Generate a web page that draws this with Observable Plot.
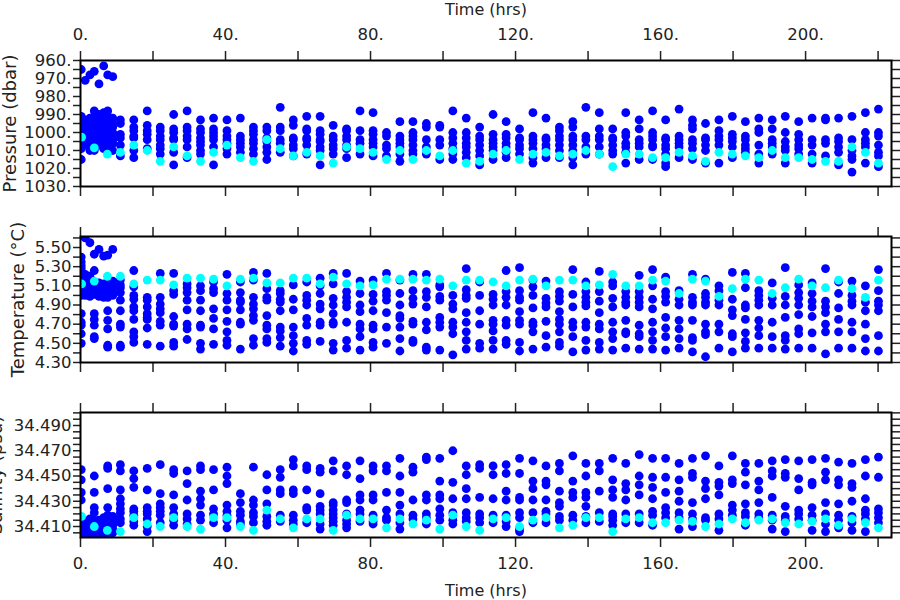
<!DOCTYPE html>
<html><head><meta charset="utf-8">
<script src="https://cdn.jsdelivr.net/npm/d3@7"></script>
<script src="https://cdn.jsdelivr.net/npm/@observablehq/plot@0.6"></script>
<style>
html,body{margin:0;padding:0;background:#fff;}
#chart{position:relative;width:900px;height:600px;overflow:hidden;background:#fff;}
#chart svg{position:absolute;left:0;overflow:visible;}
</style></head><body><div id="chart"></div>
<script>
// ---- time axis ----
const timeTicks = [0, 20, 40, 60, 80, 100, 120, 140, 160, 180, 200, 220];
const timeLabels = [0, 40, 80, 120, 160, 200];
// ---- cast times (hrs) ----
const earlyTimes = [0.2, 1.3, 2.6, 3.8, 5.1, 6.4, 7.5, 8.9];
const earlyCyanTimes = [0.3, 3.8, 7.4];
const colTimes = [11.0, 14.7, 18.4, 22.0, 25.7, 29.4, 33.1, 36.7, 40.4, 44.1, 47.7, 51.4, 55.1, 58.7,
  62.4, 66.1, 69.7, 73.4, 77.1, 80.7, 84.4, 88.1, 91.7, 95.4, 99.1, 102.7, 106.4, 110.1, 113.8, 117.4,
  121.1, 124.8, 128.4, 132.1, 135.8, 139.4, 143.1, 146.8, 150.4, 154.1, 157.8, 161.4, 165.1, 168.8,
  172.4, 176.1, 179.8, 183.4, 187.1, 190.8, 194.4, 198.1, 201.8, 205.5, 209.1, 212.8, 216.5, 220.1];

// ---- pressure (dbar) ----
const pressureTicks = [960, 965, 970, 975, 980, 985, 990, 995, 1000, 1005, 1010, 1015, 1020, 1025, 1030];
const pressureLabels = [960, 970, 980, 990, 1000, 1010, 1020, 1030];
const pressureEarly = [
  [965, 991, 994, 996, 999, 1001, 1004, 1006, 1009, 1015],
  [971, 993, 995, 998, 1000, 1002, 1005, 1007],
  [968, 992, 995, 997, 999, 1001, 1004, 1007, 1010],
  [966, 988, 991, 995, 998, 1000, 1003, 1006, 1010],
  [973, 990, 993, 996, 999, 1002, 1004, 1007],
  [963, 989, 992, 995, 998, 1001, 1003, 1006, 1009],
  [968, 988, 991, 994, 997, 1000, 1003, 1005, 1008, 1011],
  [969, 992, 995, 997, 1000, 1002, 1004, 1006, 1010]];
const pressureEarlyCyan = [1002.6, 1008.5, 1012];
const pressureCols = [
  [993, 995, 1001, 1003, 1007, 1013], [993, 997, 999, 1002, 1003, 1010, 1014], [988, 996, 999, 1001, 1004, 1009],
  [997, 999, 1002, 1004, 1007, 1009, 1012], [990, 998, 1000, 1003, 1004, 1011, 1018], [988, 997, 999, 1002, 1004, 1008, 1014],
  [993, 998, 1000, 1003, 1005, 1007, 1010, 1012], [992, 998, 1000, 1002, 1004, 1008, 1018], [993, 999, 1002, 1004, 1006, 1009, 1012],
  [992, 1002, 1004, 1006, 1008, 1011], [997, 999, 1001, 1004, 1006, 1009, 1012], [997, 999, 1003, 1005, 1008, 1011, 1015],
  [986, 997, 999, 1004, 1006, 1011], [993, 996, 1003, 1004, 1007, 1009, 1013], [991, 998, 999, 1003, 1004, 1007, 1012],
  [991, 999, 1001, 1004, 1005, 1008, 1010, 1018], [996, 1002, 1004, 1007, 1009, 1012], [998, 999, 1002, 1004, 1007, 1009, 1014],
  [988, 999, 1004, 1006, 1012], [989, 999, 1001, 1004, 1006, 1008, 1013], [1000, 1002, 1007, 1009, 1013],
  [994, 1002, 1004, 1006, 1008, 1012, 1016], [994, 1000, 1002, 1004, 1007, 1010, 1012], [995, 997, 1004, 1008, 1012],
  [996, 997, 1004, 1007, 1015], [988, 1000, 1003, 1006, 1009, 1012, 1015], [992, 1000, 1003, 1006, 1008, 1011, 1014],
  [997, 1002, 1004, 1007, 1010, 1013, 1018], [990, 1001, 1004, 1006, 1008, 1010, 1015], [994, 1001, 1003, 1006, 1008, 1011, 1014],
  [998, 1003, 1004, 1007, 1009, 1012], [989, 1002, 1004, 1006, 1009, 1014, 1017], [992, 1003, 1004, 1007, 1009, 1014],
  [997, 999, 1002, 1004, 1007, 1010, 1014], [994, 997, 1002, 1004, 1007, 1010, 1014, 1018], [986, 1002, 1004, 1008, 1012],
  [989, 998, 1002, 1004, 1008, 1012], [998, 1003, 1004, 1007, 1010, 1012], [989, 1000, 1002, 1006, 1008, 1011, 1017],
  [993, 998, 1004, 1006, 1008, 1015], [988, 1000, 1002, 1004, 1007, 1008, 1015], [993, 1003, 1004, 1007, 1009, 1012, 1017, 1019],
  [987, 1002, 1004, 1006, 1008, 1014], [993, 996, 998, 1004, 1006, 1009, 1015], [995, 1003, 1004, 1007, 1010, 1017],
  [993, 999, 1002, 1004, 1007, 1017], [991, 1001, 1003, 1005, 1008, 1014], [994, 1002, 1004, 1007, 1009, 1011],
  [992, 998, 1000, 1007, 1012, 1017], [993, 998, 1004, 1006, 1008, 1012], [991, 1000, 1005, 1008, 1010, 1017],
  [994, 1001, 1004, 1007, 1009, 1012], [992, 1004, 1007, 1012, 1017], [992, 993, 1004, 1006, 1013],
  [992, 1003, 1005, 1008, 1011, 1018], [991, 1004, 1010, 1013, 1015, 1022], [989, 1000, 1004, 1006, 1008, 1017],
  [987, 1000, 1002, 1007, 1011, 1013, 1019]];
const pressureCyan = [1011, 1007, 1010, 1016, 1008, 1013, 1016, 1011, 1007, 1014, 1016, 1004, 1009, 1013,
  1011, 1013, 1017, 1008, 1009, 1011, 1015, 1010, 1015, 1010, 1013, 1010, 1017, 1016, 1012, 1010,
  1015, 1012, 1011, 1013, 1012, 1010, 1012, 1019, 1012, 1012, 1014, 1014, 1011, 1013, 1016, 1011,
  1012, 1013, 1014, 1010, 1014, 1014, 1015, 1016, 1016, 1008, 1011, 1017];

// ---- temperature (°C) ----
const tempTicks = [4.3, 4.4, 4.5, 4.6, 4.7, 4.8, 4.9, 5.0, 5.1, 5.2, 5.3, 5.4, 5.5, 5.6];
const tempLabels = [4.3, 4.5, 4.7, 4.9, 5.1, 5.3, 5.5];
const tempEarly = [
  [5.40, 5.35, 5.31, 5.28, 5.24, 5.19, 5.09, 5.03, 5.00, 4.81, 4.72, 4.69, 4.60, 4.50],
  [5.60, 5.22, 5.17, 5.12, 5.07, 5.04, 5.00],
  [5.55, 5.20, 5.15, 5.10, 5.06, 5.03, 4.99],
  [5.43, 5.26, 5.12, 5.08, 5.05, 5.01, 4.81, 4.75, 4.69, 4.57, 4.55],
  [5.48, 5.13, 5.09, 5.06, 5.03, 4.99],
  [5.41, 5.12, 5.08, 5.05, 5.02, 4.98],
  [5.42, 5.14, 5.10, 5.06, 5.03, 4.98, 4.84, 4.74, 4.65, 4.48, 4.46],
  [5.48, 5.15, 5.11, 5.07, 5.03, 5.00]];
const tempEarlyCyan = [5.12, 5.15, 5.20];
const tempCols = [
  [5.16, 5.11, 5.08, 5.03, 4.95, 4.84, 4.70, 4.67, 4.48, 4.46], [5.26, 5.09, 5.00, 4.96, 4.88, 4.84, 4.75, 4.62, 4.57, 4.51],
  [4.98, 4.95, 4.88, 4.81, 4.77, 4.75, 4.66, 4.49], [5.23, 4.98, 4.91, 4.86, 4.82, 4.73, 4.69, 4.47],
  [5.23, 5.05, 5.01, 4.78, 4.70, 4.68, 4.51, 4.47], [5.12, 5.08, 5.03, 4.95, 4.85, 4.70, 4.65, 4.54],
  [5.10, 5.05, 4.95, 4.84, 4.69, 4.67, 4.50, 4.44], [5.14, 5.07, 5.03, 4.86, 4.76, 4.65, 4.49],
  [5.22, 5.02, 4.95, 4.85, 4.73, 4.62, 4.53, 4.48], [5.14, 5.03, 4.95, 4.93, 4.85, 4.72, 4.70, 4.44],
  [5.24, 5.16, 4.98, 4.91, 4.86, 4.79, 4.74, 4.55, 4.48], [5.23, 5.07, 4.98, 4.95, 4.79, 4.69, 4.65, 4.55, 4.51],
  [5.05, 5.02, 4.96, 4.93, 4.84, 4.67, 4.63, 4.56, 4.47], [5.11, 4.96, 4.85, 4.67, 4.58, 4.50, 4.42],
  [5.14, 5.00, 4.95, 4.90, 4.76, 4.69, 4.53, 4.49], [5.18, 5.10, 5.02, 4.91, 4.86, 4.72, 4.69, 4.52],
  [5.23, 5.12, 4.97, 4.90, 4.81, 4.72, 4.70, 4.50, 4.43], [5.23, 5.04, 4.98, 4.93, 4.88, 4.72, 4.53, 4.45],
  [5.15, 5.02, 4.90, 4.83, 4.70, 4.65, 4.57, 4.43], [5.16, 5.01, 4.94, 4.84, 4.69, 4.65, 4.51, 4.46],
  [5.23, 5.04, 5.00, 4.95, 4.82, 4.67, 4.50], [5.16, 5.02, 4.90, 4.79, 4.76, 4.67, 4.55, 4.42],
  [5.22, 5.05, 4.97, 4.91, 4.73, 4.70, 4.53, 4.51], [5.22, 5.04, 4.98, 4.88, 4.72, 4.64, 4.46, 4.43],
  [5.11, 5.09, 4.99, 4.95, 4.77, 4.72, 4.67, 4.43], [5.00, 4.91, 4.86, 4.72, 4.67, 4.60, 4.38],
  [5.28, 5.06, 5.00, 4.97, 4.82, 4.72, 4.62, 4.53, 4.44], [5.14, 5.00, 4.84, 4.70, 4.50, 4.45],
  [5.01, 4.96, 4.90, 4.74, 4.70, 4.63, 4.53, 4.44], [5.26, 5.04, 4.98, 4.90, 4.74, 4.69, 4.53, 4.49],
  [5.29, 5.05, 4.98, 4.95, 4.83, 4.74, 4.70, 4.51, 4.42], [5.16, 5.09, 5.00, 4.87, 4.72, 4.69, 4.62, 4.44],
  [5.15, 4.97, 4.92, 4.88, 4.73, 4.58, 4.46], [5.04, 4.99, 4.94, 4.83, 4.75, 4.70, 4.62, 4.51, 4.47],
  [5.27, 5.01, 4.88, 4.72, 4.67, 4.57, 4.41], [5.14, 5.04, 4.98, 4.93, 4.89, 4.72, 4.67, 4.53, 4.43],
  [5.25, 5.04, 4.94, 4.82, 4.70, 4.65, 4.51, 4.44], [5.14, 5.10, 4.97, 4.88, 4.72, 4.62, 4.55, 4.43],
  [5.04, 4.98, 4.93, 4.90, 4.74, 4.62, 4.60, 4.45], [5.21, 5.04, 4.98, 4.93, 4.88, 4.69, 4.60, 4.57, 4.44],
  [5.27, 5.10, 4.96, 4.86, 4.72, 4.62, 4.53, 4.44], [5.19, 5.04, 4.99, 4.93, 4.77, 4.66, 4.57, 4.43],
  [5.05, 4.96, 4.90, 4.74, 4.65, 4.55, 4.45], [5.22, 4.98, 4.93, 4.90, 4.74, 4.56, 4.53, 4.41],
  [5.17, 5.02, 4.98, 4.93, 4.90, 4.70, 4.62, 4.59, 4.36], [5.10, 5.05, 4.95, 4.90, 4.70, 4.62, 4.45],
  [5.24, 4.96, 4.85, 4.79, 4.60, 4.57, 4.41], [5.23, 5.08, 4.90, 4.87, 4.75, 4.61, 4.52, 4.45],
  [5.05, 5.00, 4.95, 4.90, 4.74, 4.66, 4.58, 4.45], [5.13, 4.97, 4.90, 4.72, 4.57, 4.45],
  [5.29, 4.99, 4.90, 4.77, 4.58, 4.53, 4.44], [5.11, 5.03, 4.97, 4.90, 4.80, 4.65, 4.60, 4.45],
  [5.13, 5.02, 4.94, 4.88, 4.78, 4.61, 4.45], [5.28, 4.94, 4.88, 4.82, 4.70, 4.62, 4.39],
  [5.14, 5.02, 4.87, 4.75, 4.62, 4.45], [5.15, 5.00, 4.94, 4.90, 4.72, 4.62, 4.45],
  [5.10, 4.93, 4.84, 4.70, 4.55, 4.42], [5.27, 5.05, 4.94, 4.90, 4.84, 4.58, 4.42]];
const tempCyan = [5.20, 5.12, 5.16, 5.16, 5.11, 5.18, 5.18, 5.17, 5.10, 5.17, 5.18, 5.13, 5.13, 5.18,
  5.18, 5.12, 5.19, 5.12, 5.10, 5.11, 5.17, 5.17, 5.17, 5.16, 5.17, 5.10, 5.16, 5.16, 5.14, 5.10,
  5.16, 5.17, 5.10, 5.16, 5.16, 5.10, 5.11, 5.22, 5.10, 5.10, 5.16, 5.15, 5.02, 5.17, 5.15, 4.99,
  5.07, 5.17, 5.16, 5.02, 5.08, 5.17, 5.10, 5.08, 5.16, 5.07, 4.98, 5.16];

// ---- salinity (psu) ----
const salTicks = [34.405, 34.410, 34.415, 34.420, 34.425, 34.430, 34.435, 34.440, 34.445, 34.450,
  34.455, 34.460, 34.465, 34.470, 34.475, 34.480, 34.485, 34.490, 34.495, 34.500];
const salLabels = [34.410, 34.430, 34.450, 34.470, 34.490];
const salEarly = [
  [34.455, 34.447, 34.437, 34.431, 34.415, 34.412, 34.408, 34.404],
  [34.414, 34.411, 34.408, 34.405],
  [34.416, 34.412, 34.409, 34.406, 34.403],
  [34.450, 34.437, 34.425, 34.421, 34.415, 34.412, 34.408, 34.405],
  [34.415, 34.412, 34.409, 34.406, 34.403],
  [34.417, 34.413, 34.410, 34.407, 34.404],
  [34.458, 34.456, 34.440, 34.425, 34.419, 34.416, 34.413, 34.405],
  [34.418, 34.414, 34.411, 34.408, 34.405]];
const salEarlyCyan = [34.418, 34.410, 34.407];
const salCols = [
  [34.459, 34.454, 34.439, 34.432, 34.428, 34.424, 34.421, 34.416, 34.413], [34.454, 34.448, 34.441, 34.424, 34.422, 34.419, 34.414, 34.411],
  [34.456, 34.439, 34.425, 34.422, 34.420, 34.416, 34.410, 34.406], [34.459, 34.436, 34.428, 34.425, 34.422, 34.419, 34.413],
  [34.455, 34.452, 34.435, 34.425, 34.420, 34.415, 34.411], [34.454, 34.444, 34.431, 34.420, 34.416, 34.412],
  [34.458, 34.455, 34.438, 34.432, 34.427, 34.419, 34.415], [34.455, 34.439, 34.424, 34.420, 34.413],
  [34.457, 34.450, 34.444, 34.427, 34.422, 34.419, 34.415, 34.409], [34.436, 34.429, 34.422, 34.419, 34.414, 34.412],
  [34.457, 34.431, 34.427, 34.421, 34.418, 34.413], [34.451, 34.439, 34.428, 34.418, 34.414, 34.411],
  [34.455, 34.449, 34.439, 34.436, 34.419, 34.414], [34.463, 34.458, 34.439, 34.436, 34.419, 34.415, 34.412],
  [34.458, 34.455, 34.439, 34.425, 34.423, 34.413], [34.456, 34.453, 34.436, 34.426, 34.423, 34.420, 34.412, 34.408],
  [34.462, 34.454, 34.429, 34.427, 34.423, 34.420, 34.417, 34.414, 34.411], [34.458, 34.451, 34.431, 34.429, 34.420, 34.415, 34.412, 34.409],
  [34.462, 34.448, 34.435, 34.431, 34.423, 34.420, 34.414], [34.458, 34.454, 34.435, 34.431, 34.419, 34.414, 34.412],
  [34.458, 34.454, 34.437, 34.423, 34.417, 34.415], [34.464, 34.450, 34.437, 34.427, 34.420, 34.413, 34.408],
  [34.457, 34.453, 34.431, 34.419, 34.416], [34.465, 34.463, 34.435, 34.431, 34.420, 34.417, 34.412],
  [34.464, 34.446, 34.435, 34.432, 34.424, 34.419, 34.415], [34.470, 34.445, 34.432, 34.421, 34.415, 34.412],
  [34.458, 34.451, 34.440, 34.432, 34.421, 34.417, 34.414], [34.459, 34.456, 34.433, 34.420, 34.417, 34.413],
  [34.458, 34.451, 34.432, 34.419, 34.413], [34.459, 34.452, 34.438, 34.431, 34.419, 34.414, 34.410],
  [34.464, 34.452, 34.433, 34.431, 34.421, 34.417, 34.408, 34.406], [34.462, 34.446, 34.440, 34.431, 34.421, 34.413],
  [34.458, 34.446, 34.443, 34.431, 34.422, 34.420, 34.413], [34.460, 34.454, 34.438, 34.429, 34.426, 34.418, 34.415],
  [34.466, 34.446, 34.437, 34.433, 34.419, 34.415], [34.460, 34.450, 34.437, 34.433, 34.426, 34.418, 34.413],
  [34.460, 34.454, 34.438, 34.421, 34.414], [34.464, 34.447, 34.439, 34.433, 34.420, 34.418, 34.415, 34.411],
  [34.460, 34.444, 34.439, 34.431, 34.420, 34.413], [34.467, 34.450, 34.443, 34.435, 34.420, 34.413],
  [34.464, 34.449, 34.441, 34.432, 34.422, 34.419, 34.411], [34.464, 34.449, 34.437, 34.425, 34.421, 34.417],
  [34.460, 34.447, 34.438, 34.430, 34.421, 34.417, 34.408], [34.464, 34.452, 34.449, 34.429, 34.420, 34.416, 34.410],
  [34.466, 34.446, 34.440, 34.432, 34.417, 34.415], [34.458, 34.445, 34.442, 34.435, 34.420, 34.416, 34.407],
  [34.466, 34.447, 34.444, 34.427, 34.423, 34.419], [34.460, 34.453, 34.443, 34.428, 34.421, 34.418, 34.411],
  [34.460, 34.446, 34.439, 34.429, 34.420, 34.417], [34.462, 34.454, 34.450, 34.433, 34.419, 34.415, 34.408],
  [34.463, 34.452, 34.449, 34.426, 34.418, 34.415, 34.406], [34.462, 34.448, 34.439, 34.423, 34.420, 34.416],
  [34.463, 34.445, 34.443, 34.425, 34.419, 34.415, 34.407], [34.464, 34.453, 34.447, 34.429, 34.420, 34.412, 34.406],
  [34.461, 34.447, 34.443, 34.428, 34.419, 34.415, 34.409], [34.460, 34.444, 34.441, 34.430, 34.418, 34.413, 34.407],
  [34.463, 34.450, 34.432, 34.423, 34.420, 34.416, 34.406], [34.465, 34.449, 34.424, 34.421, 34.417, 34.413]];
const salCyan = [34.406, 34.417, 34.412, 34.410, 34.417, 34.410, 34.408, 34.417, 34.417, 34.410, 34.407, 34.423, 34.416, 34.409,
  34.416, 34.416, 34.407, 34.419, 34.416, 34.416, 34.409, 34.416, 34.412, 34.415, 34.408, 34.419, 34.410, 34.407, 34.416, 34.417,
  34.410, 34.415, 34.417, 34.409, 34.411, 34.417, 34.417, 34.406, 34.416, 34.417, 34.413, 34.413, 34.415, 34.414, 34.410, 34.412,
  34.416, 34.413, 34.415, 34.416, 34.413, 34.412, 34.414, 34.416, 34.411, 34.416, 34.413, 34.409];

// ---- build point tables ----
function castPoints(times, cols) {
  const out = [];
  cols.forEach((c, i) => c.forEach(v => out.push({t: times[i], v})));
  return out;
}
function singlePoints(times, vals) { return vals.map((v, i) => ({t: times[i], v})); }

const BLUE = "#0000ff", CYAN = "#00ffff", INK = "#222";
const FONT = "'DejaVu Sans', sans-serif";
const R = 4.4;
const has = (arr, d) => arr.some(l => Math.abs(l - d) < 1e-7);

function panel(o) {
  const blue = castPoints(earlyTimes, o.early).concat(castPoints(colTimes, o.cols));
  const cyan = singlePoints(earlyCyanTimes, o.earlyCyan).concat(singlePoints(colTimes, o.cyan));
  const marks = [
    Plot.dot(blue, {x: "t", y: "v", r: R, fill: BLUE, clip: true}),
    Plot.dot(cyan, {x: "t", y: "v", r: R, fill: CYAN, clip: true}),
    Plot.axisY({anchor: "left", ticks: o.yTicks, tickSize: 7, tickPadding: 2, strokeWidth: 1.5, label: null,
      tickFormat: d => has(o.yLabels, d) ? o.yFmt(d) : ""}),
    Plot.axisY({anchor: "right", ticks: o.yTicks, tickSize: 8, strokeWidth: 1.5, label: null, tickFormat: () => ""}),
    Plot.axisX({anchor: "top", ticks: timeTicks, tickSize: 10, tickPadding: 11, strokeWidth: 1.5, label: null,
      tickFormat: d => (o.topLabels && has(timeLabels, d)) ? d + "." : ""}),
    Plot.axisX({anchor: "bottom", ticks: timeTicks, tickSize: 10, tickPadding: 10, strokeWidth: 1.5, label: null,
      tickFormat: d => (o.bottomLabels && has(timeLabels, d)) ? d + "." : ""}),
    Plot.frame({stroke: "#000", strokeWidth: 2}),
    Plot.text([o.title], {text: d => d, frameAnchor: "left", textAnchor: "middle", lineAnchor: "middle",
      rotate: -90, dx: o.titleDx, fontSize: 18, fill: INK})
  ];
  if (o.topLabels) marks.push(Plot.text(["Time (hrs)"], {text: d => d, frameAnchor: "top", lineAnchor: "middle", dy: -51, fontSize: 16, fill: INK}));
  if (o.bottomLabels) marks.push(Plot.text(["Time (hrs)"], {text: d => d, frameAnchor: "bottom", lineAnchor: "middle", dy: 53, fontSize: 16, fill: INK}));
  const svg = Plot.plot({
    width: 900, height: o.height,
    marginLeft: 80, marginRight: 9, marginTop: o.marginTop, marginBottom: o.marginBottom,
    style: {fontFamily: FONT, fontSize: "16.5px", color: INK, background: "transparent", overflow: "visible"},
    x: {domain: [0, 223.7]},
    y: {domain: o.yDomain, reverse: !!o.reverse},
    marks
  });
  svg.style.top = o.top + "px";
  document.getElementById("chart").appendChild(svg);
}

panel({top: 0, height: 200, marginTop: 60, marginBottom: 14,
  yDomain: [960, 1030], reverse: true, yTicks: pressureTicks, yLabels: pressureLabels, yFmt: d => d + ".",
  early: pressureEarly, cols: pressureCols, earlyCyan: pressureEarlyCyan, cyan: pressureCyan,
  title: "Pressure (dbar)", titleDx: -70, topLabels: true});
panel({top: 200, height: 180, marginTop: 36, marginBottom: 18,
  yDomain: [4.30, 5.615], yTicks: tempTicks, yLabels: tempLabels, yFmt: d => d.toFixed(2),
  early: tempEarly, cols: tempCols, earlyCyan: tempEarlyCyan, cyan: tempCyan,
  title: "Temperature (°C)", titleDx: -62});
panel({top: 380, height: 220, marginTop: 32, marginBottom: 63,
  yDomain: [34.4013, 34.5003], yTicks: salTicks, yLabels: salLabels, yFmt: d => d.toFixed(3),
  early: salEarly, cols: salCols, earlyCyan: salEarlyCyan, cyan: salCyan,
  title: "Salinity (psu)", titleDx: -84, bottomLabels: true});
</script></body></html>
